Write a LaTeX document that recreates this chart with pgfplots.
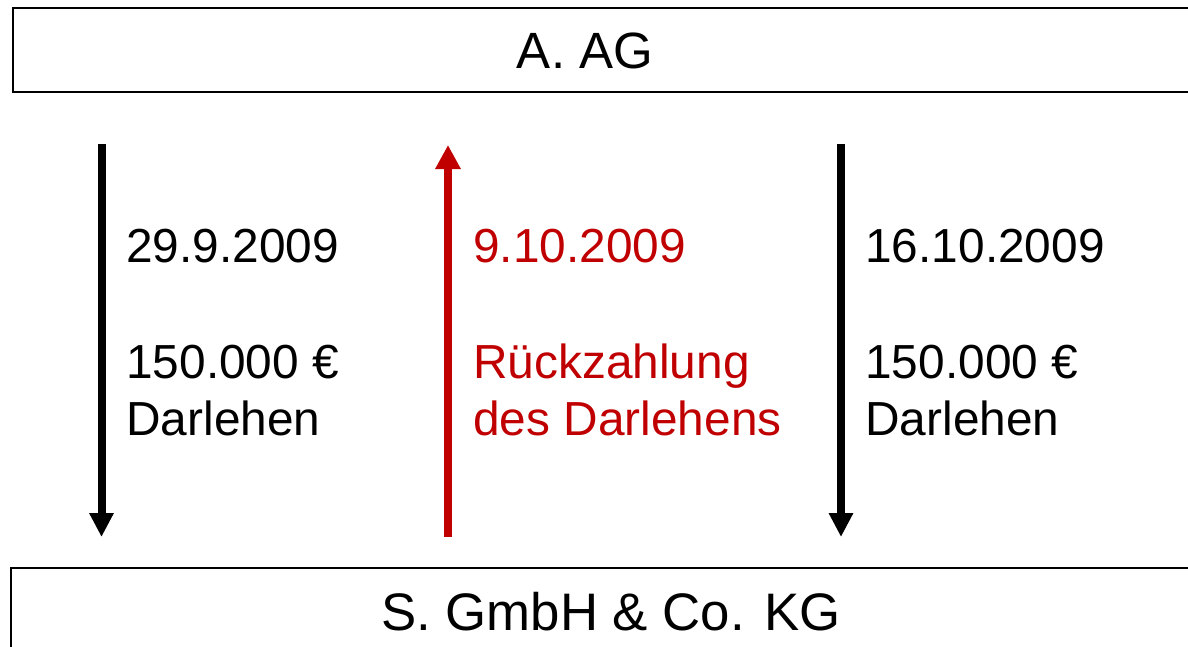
\documentclass[border=0pt]{standalone}
\usepackage{fontspec}
\setmainfont{Liberation Sans}
\usepackage{pgfplots}
\pgfplotsset{compat=1.18}
\usetikzlibrary{arrows.meta}
\definecolor{dred}{RGB}{192,0,0}
\begin{document}
\begin{tikzpicture}
\begin{axis}[hide axis, scale only axis, width=594pt, height=323.5pt,
  xmin=0, xmax=1188, ymin=0, ymax=647, y dir=reverse, clip=true]
% boxes
\addplot[black, line width=1.1pt] coordinates {(1200,8) (13,8) (13,92) (1200,92)};
\addplot[black, line width=1.1pt] coordinates {(1200,568) (11,568) (11,660)};
% arrows
\addplot[black, line width=4pt, -{Triangle[width=11.5pt,length=12pt]}] coordinates {(101.5,144) (101.5,537)};
\addplot[dred, line width=4pt, -{Triangle[width=12pt,length=12pt]}] coordinates {(448,537) (448,145)};
\addplot[black, line width=4pt, -{Triangle[width=11.5pt,length=12pt]}] coordinates {(841,144) (841,537)};
% texts
\node[anchor=base, inner sep=0, font=\fontsize{25.5}{30}\selectfont] at (axis cs:585,69) {A. AG};
\node[anchor=base, inner sep=0, font=\fontsize{26.4}{31}\selectfont] at (axis cs:611,630) {S. GmbH \& Co. KG};
\begin{scope}[every node/.style={anchor=base west, inner sep=0, font=\fontsize{23.9}{28}\selectfont}]
\node at (axis cs:126,262) {29.9.2009};
\node at (axis cs:126,378) {150.000 €};
\node at (axis cs:126,435) {Darlehen};
\node[text=dred] at (axis cs:473,262) {9.10.2009};
\node[text=dred] at (axis cs:473,378) {Rückzahlung};
\node[text=dred] at (axis cs:473,435) {des Darlehens};
\node at (axis cs:865,262) {16.10.2009};
\node at (axis cs:865,378) {150.000 €};
\node at (axis cs:865,435) {Darlehen};
\end{scope}
\coordinate (ll) at (axis cs:0,647);
\coordinate (ur) at (axis cs:1188,0);
\end{axis}
\pgfresetboundingbox
\useasboundingbox (ll) rectangle (ur);
\end{tikzpicture}
\end{document}
